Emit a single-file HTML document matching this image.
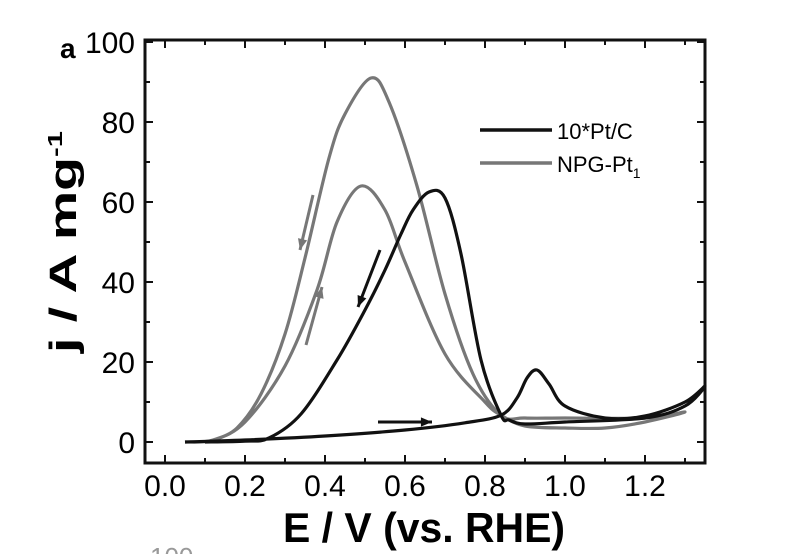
<!DOCTYPE html>
<html><head><meta charset="utf-8"><style>
body{margin:0;background:#fff;}
svg{display:block;font-family:"Liberation Sans",Arial,sans-serif;}
</style></head><body>
<svg id="chart" width="800" height="554">
<text x="60" y="58" font-size="28" font-weight="bold">a</text>
<g id="axes"></g>
<g id="series"></g>
<text x="283" y="542" font-size="42" font-weight="bold" textLength="282" lengthAdjust="spacingAndGlyphs">E / V (vs. RHE)</text>
<text transform="translate(76,353) rotate(-90)" font-size="38" font-weight="bold" textLength="222" lengthAdjust="spacingAndGlyphs">j / A mg<tspan dy="-14" font-size="20">-1</tspan></text>
<text x="150" y="566" font-size="26" fill="#999">100</text>
<g>
<line x1="480" y1="130" x2="552" y2="130" stroke="#111" stroke-width="3.5"/>
<text x="557" y="139" font-size="22">10*Pt/C</text>
<line x1="480" y1="163" x2="552" y2="163" stroke="#777" stroke-width="3.5"/>
<text x="557" y="172" font-size="22">NPG-Pt<tspan dy="6" font-size="14">1</tspan></text>
</g>
</svg>
<script>
const xTicks=[0.0,0.2,0.4,0.6,0.8,1.0,1.2];
const yTicks=[0,20,40,60,80,100];
const ptcE=[0.05,0.2,0.4,0.6,0.75,0.84,0.88,0.905,0.93,0.96,1.0,1.1,1.2,1.3,1.35,1.3,1.2,1.0,0.9,0.86,0.84,0.79,0.74,0.7,0.66,0.62,0.59,0.55,0.5,0.43,0.34,0.26,0.2,0.1];
const ptcJ=[0,0.5,1.5,3,4.8,6.7,11,16,18,14.5,9,6,6.5,10,14,9,6,5,4.5,5.5,6.7,20.5,47,61,62.5,58,52,43,33,20.5,7,1,0.2,0];
const npgE=[0.05,0.12,0.2,0.3,0.38,0.43,0.49,0.55,0.6,0.7,0.8,0.84,0.9,1.0,1.1,1.2,1.3,1.2,1.0,0.9,0.84,0.77,0.7,0.63,0.56,0.515,0.45,0.41,0.35,0.3,0.24,0.18,0.12];
const npgJ=[0,0.5,5,19,38,55,64,58,45,22,10,6.7,4,3.5,3.5,5,7.5,6,6,6,6.7,17,37,64,85,91,82,71,46,27,12,3.5,0.3];
const X0=165,PX=400,Y0=442,PY=4,L=145,R=705,T=40,B=463;
const sx=v=>X0+v*PX, sy=v=>Y0-v*PY;
const ns="http://www.w3.org/2000/svg";
const ax=document.getElementById('axes'), se=document.getElementById('series');
function mk(tag,attrs,parent){const e=document.createElementNS(ns,tag);for(const k in attrs)e.setAttribute(k,attrs[k]);parent.appendChild(e);return e;}
const frame=mk('rect',{x:L,y:T,width:R-L,height:B-T,fill:'none',stroke:'#111','stroke-width':3},ax);


for(let i=0;i<=13;i++){const v=i*0.1;const x=sx(v);if(x>R)break;const len=i%2?5:8;
mk('line',{x1:x,y1:B,x2:x,y2:B-len,stroke:'#111','stroke-width':2},ax);
mk('line',{x1:x,y1:T,x2:x,y2:T+len,stroke:'#111','stroke-width':2},ax);}
xTicks.forEach(v=>{const t=mk('text',{x:sx(v),y:496,'font-size':30,'text-anchor':'middle'},ax);t.textContent=v.toFixed(1);

});
for(let v=0;v<=100;v+=10){const y=sy(v);const len=v%20?5:8;
mk('line',{x1:L,y1:y,x2:L+len,y2:y,stroke:'#111','stroke-width':2},ax);
mk('line',{x1:R,y1:y,x2:R-len,y2:y,stroke:'#111','stroke-width':2},ax);}
yTicks.forEach(v=>{const t=mk('text',{x:L-10,y:sy(v)+11,'font-size':30,'text-anchor':'end'},ax);t.textContent=v;

});
function path(E,J,color,name){const P=E.map((e,i)=>[sx(e),sy(J[i])]);
let d='M'+P[0][0].toFixed(1)+','+P[0][1].toFixed(1);
for(let i=0;i<P.length-1;i++){const p0=P[Math.max(i-1,0)],p1=P[i],p2=P[i+1],p3=P[Math.min(i+2,P.length-1)];
const c1=[p1[0]+(p2[0]-p0[0])/6,p1[1]+(p2[1]-p0[1])/6],c2=[p2[0]-(p3[0]-p1[0])/6,p2[1]-(p3[1]-p1[1])/6];
d+=`C${c1[0].toFixed(1)},${c1[1].toFixed(1)} ${c2[0].toFixed(1)},${c2[1].toFixed(1)} ${p2[0].toFixed(1)},${p2[1].toFixed(1)}`;}
const p=mk('path',{d:d,fill:'none',stroke:color,'stroke-width':3.2,'stroke-linejoin':'round'},se);

}
path(npgE,npgJ,'#777','series-npg-pt1');
path(ptcE,ptcJ,'#111','series-10-pt-c');
function arrow(x1,y1,x2,y2,c,name){const g=mk('g',{},se);


mk('line',{x1:x1,y1:y1,x2:x2,y2:y2,stroke:c,'stroke-width':3},g);
const a=Math.atan2(y2-y1,x2-x1),s=12;
mk('polygon',{points:`${x2},${y2} ${x2-s*Math.cos(a-0.4)},${y2-s*Math.sin(a-0.4)} ${x2-s*Math.cos(a+0.4)},${y2-s*Math.sin(a+0.4)}`,fill:c},g);}
arrow(313,195,300,250,'#777','arrow-npg-backward');
arrow(306,345,322,287,'#777','arrow-npg-forward');
arrow(380,250,358,307,'#111','arrow-ptc-backward');
arrow(378,422,432,422,'#111','arrow-ptc-forward');
</script>
</body></html>
